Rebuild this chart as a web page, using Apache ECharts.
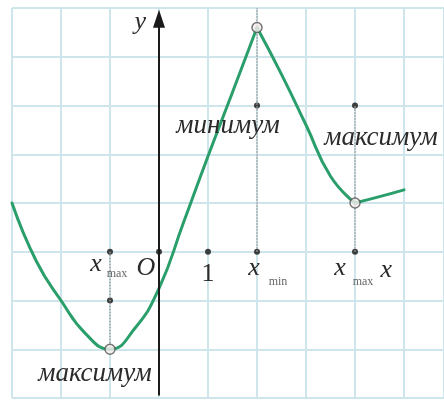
<!DOCTYPE html>
<html>
<head>
<meta charset="utf-8">
<script src="https://cdn.jsdelivr.net/npm/echarts@6/dist/echarts.min.js"></script>
<style>
  html, body { margin: 0; background: #fff; }
  #chart { width: 444px; height: 401px; }
</style>
</head>
<body>
<div id="chart"></div>
<script>
// curve (x in grid units); split at the sharp extrema x=2 and x=4
const curveX = [-3, -2.5, -2, -1.5, -1, -0.5, 0, 0.5, 1, 1.5, 2, 2.5, 3, 3.5, 4, 4.5, 5];
const curveY = [1.0, -0.2, -1.0, -1.68, -2.0, -1.58, -0.75, 0.6, 1.96, 3.27, 4.6, 3.64, 2.6, 1.55, 1.0, 1.13, 1.27];
const curveBreaks = [0, 10, 14, 16];

// extrema (open circles) and helper dots
const extremaX = [-1, 2, 4];
const extremaY = [-2, 4.6, 1];
const extremaNames = ['максимум', 'минимум', 'максимум'];
const dotX = [-1, 0, 1, 2, 4, -1, 2, 4];
const dotY = [0, 0, 0, 0, 0, -1, 3, 3];

// x axis tick labels
const tickX = [-1, 0, 1, 2, 4];
const tickMain = ['x', 'O', '1', 'x', 'x'];
const tickSub = ['max', '', '', 'min', 'max'];

const serif = '"Liberation Serif", "DejaVu Serif", serif';

var chartDom = document.getElementById('chart');
var myChart = echarts.init(chartDom);
var option;

const curveSeries = [];
for (let k = 0; k < curveBreaks.length - 1; k++) {
  const pts = [];
  for (let i = curveBreaks[k]; i <= curveBreaks[k + 1]; i++) pts.push([curveX[i], curveY[i]]);
  curveSeries.push({
    type: 'line',
    data: pts,
    smooth: 0.5,
    symbol: 'none',
    lineStyle: { color: '#2a9e6b', width: 3, cap: 'round', join: 'round' },
    z: 3
  });
}

option = {
  animation: false,
  backgroundColor: '#fff',
  grid: { left: 12, top: 8, width: 432, height: 390 },
  xAxis: {
    type: 'value', min: -3, max: 5.816, interval: 1,
    axisLine: { show: false }, axisTick: { show: false }, axisLabel: { show: false },
    splitLine: { lineStyle: { color: '#cfe5ec', width: 2 } }
  },
  yAxis: {
    type: 'value', min: -3, max: 5, interval: 1,
    axisLine: { show: false }, axisTick: { show: false }, axisLabel: { show: false },
    splitLine: { lineStyle: { color: '#cfe5ec', width: 2 } }
  },
  series: [
    {
      // dotted helper lines
      type: 'line',
      data: [],
      markLine: {
        silent: true,
        symbol: ['none', 'none'],
        label: { show: false },
        lineStyle: { color: '#a0a0a0', type: 'dotted', width: 1.5 },
        data: [
          [{ coord: [-1, 0] }, { coord: [-1, -2] }],
          [{ coord: [2, 0] }, { coord: [2, 5] }],
          [{ coord: [4, 0] }, { coord: [4, 3] }]
        ]
      }
    },
    {
      // coordinate axes with arrows
      type: 'line',
      data: [],
      markLine: {
        silent: true,
        symbol: ['none', 'triangle'],
        symbolSize: [12, 18],
        label: { show: false },
        lineStyle: { color: '#1a1a1a', type: 'solid', width: 2 },
        data: [
          [{ coord: [-3.05, 0] }, { coord: [4.78, 0] }],
          [{ coord: [0, -2.95] }, { coord: [0, 4.78] }]
        ]
      }
    },
    ...curveSeries,
    {
      type: 'scatter',
      data: dotX.map((x, i) => [x, dotY[i]]),
      symbolSize: 6,
      itemStyle: { color: '#111' },
      z: 4
    },
    {
      type: 'scatter',
      data: extremaX.map((x, i) => [x, extremaY[i]]),
      symbolSize: 10,
      itemStyle: { color: '#f4ecec', borderColor: '#555', borderWidth: 1.5 },
      z: 5
    }
  ]
};

option && myChart.setOption(option);

// text placed relative to the data points
function px(x, y) { return myChart.convertToPixel({ gridIndex: 0 }, [x, y]); }
function txt(x, y, text, size, italic, color) {
  return {
    type: 'text', x: x, y: y, z: 10,
    style: {
      text: text, fill: color || '#2b2b2b',
      font: (italic ? 'italic ' : '') + size + 'px ' + serif,
      align: 'center', verticalAlign: 'middle'
    }
  };
}

const els = [];
const nameOffsets = [[-15, 25], [-29, 20], [26, 32]];
const nameAnchorY = [-2, 3, 3];
extremaNames.forEach((name, i) => {
  const p = px(extremaX[i], nameAnchorY[i]);
  els.push(txt(p[0] + nameOffsets[i][0], p[1] + nameOffsets[i][1], name, 27, true));
});

const mainOffsets = [[-14, 12], [-13, 16], [0, 22], [-3, 16], [-15, 16]];
const subOffsets = [[7, 22], null, null, [21, 30], [8, 30]];
tickX.forEach((x, i) => {
  const p = px(x, 0);
  const italic = tickMain[i] !== '1';
  els.push(txt(p[0] + mainOffsets[i][0], p[1] + mainOffsets[i][1], tickMain[i], 26, italic));
  if (tickSub[i]) {
    els.push(txt(p[0] + subOffsets[i][0], p[1] + subOffsets[i][1], tickSub[i], 12, false, '#666'));
  }
});

const xLab = px(4.64, 0);
els.push(txt(xLab[0], xLab[1] + 18, 'x', 26, true));
const yLab = px(-0.38, 4.7);
els.push(txt(yLab[0], yLab[1], 'y', 26, true));

myChart.setOption({ graphic: { elements: els } });
</script>
</body>
</html>
